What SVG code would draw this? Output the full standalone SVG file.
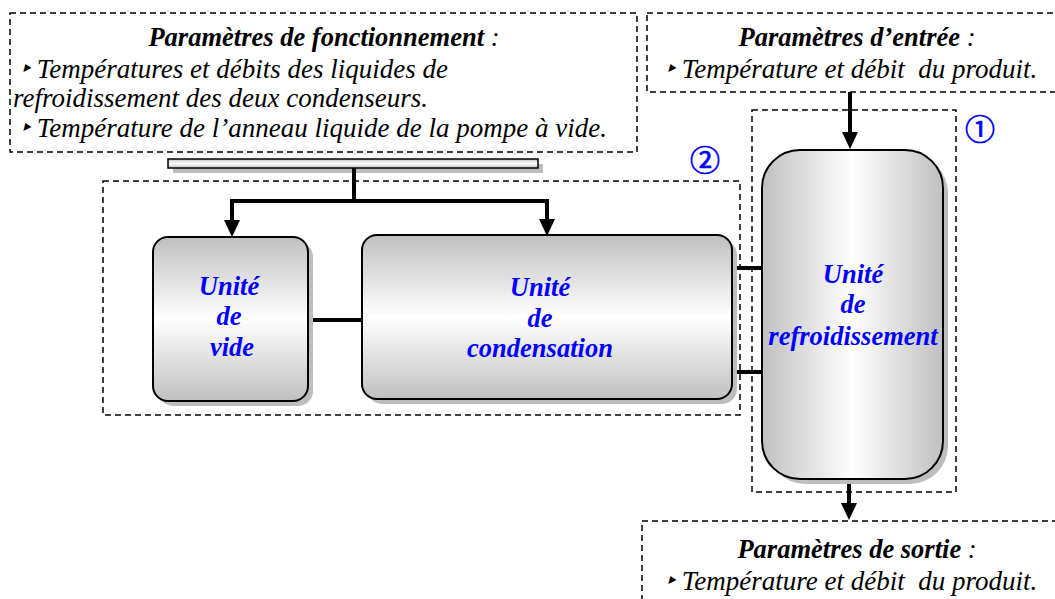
<svg xmlns="http://www.w3.org/2000/svg" width="1055" height="599" viewBox="0 0 1055 599">
<style>
.dash{fill:none;stroke:#000;stroke-width:1.5;stroke-dasharray:6,4}
.hd{font-family:"Liberation Serif","Times New Roman",serif;font-style:italic;font-weight:bold;font-size:26.5px;fill:#000}
.tx{font-family:"Liberation Serif","Times New Roman",serif;font-style:italic;font-size:27px;fill:#000;white-space:pre}
.bl{font-family:"Liberation Serif","Times New Roman",serif;font-style:italic;font-weight:bold;font-size:26.5px;fill:#0000ff}
.num{font-family:"Noto Sans CJK JP","DejaVu Sans",sans-serif;font-size:30px;fill:#0000ff;stroke:#0000ff;stroke-width:0.7}
.box{stroke:#000;stroke-width:2}
.sh{fill:#bdbdbd}
.ln{stroke:#000;stroke-width:4;fill:none}
</style>
<defs>
<linearGradient id="gv" x1="0" y1="0" x2="0" y2="1">
<stop offset="0" stop-color="#c0c0c0"/><stop offset="0.5" stop-color="#ffffff"/><stop offset="1" stop-color="#c0c0c0"/>
</linearGradient>
<linearGradient id="gh" x1="0" y1="0" x2="1" y2="0">
<stop offset="0" stop-color="#c0c0c0"/><stop offset="0.5" stop-color="#ffffff"/><stop offset="1" stop-color="#c0c0c0"/>
</linearGradient>
</defs>

<g id="params-fonctionnement">
<rect class="dash" x="10" y="13" width="627" height="139"/>
<text class="hd" x="324" y="46" text-anchor="middle">Paramètres de fonctionnement <tspan font-weight="normal">:</tspan></text>
<text class="tx" x="20" y="78">‣ Températures et débits des liquides de</text>
<text class="tx" x="13" y="107">refroidissement des deux condenseurs.</text>
<text class="tx" x="20" y="137">‣ Température de l’anneau liquide de la pompe à vide.</text>
</g>

<g id="params-entree">
<rect class="dash" x="647" y="13" width="420" height="79"/>
<text class="hd" x="857" y="46" text-anchor="middle">Paramètres d’entrée <tspan font-weight="normal">:</tspan></text>
<text class="tx" x="665" y="78" xml:space="preserve" font-size="26.6">‣ Température et débit  du produit.</text>
</g>

<g id="params-sortie">
<rect class="dash" x="642" y="521" width="425" height="90"/>
<text class="hd" x="857" y="558" text-anchor="middle">Paramètres de sortie <tspan font-weight="normal">:</tspan></text>
<text class="tx" x="665" y="590" xml:space="preserve" font-size="26.6">‣ Température et débit  du produit.</text>
</g>

<g id="bus">
<rect class="sh" x="173" y="164" width="370" height="9"/>
<rect x="168" y="159" width="370" height="9" fill="url(#gv)" stroke="#000" stroke-width="1.5"/>
</g>

<g id="groupe-2">
<rect class="dash" x="103" y="181" width="637" height="234"/>
<text class="num" x="705" y="158" text-anchor="middle" dominant-baseline="central">②</text>
</g>

<g id="groupe-1">
<rect class="dash" x="752" y="110" width="204" height="382"/>
<text class="num" x="980" y="127" text-anchor="middle" dominant-baseline="central">①</text>
</g>

<g id="connectors">
<path class="ln" d="M354 168 V201 M232 201 H547 M232 199 V222 M547 199 V221"/>
<polygon points="224,220 240,220 232,237"/>
<polygon points="539,219 555,219 547,236"/>
<path class="ln" d="M308 320 H362"/>
<path class="ln" d="M732 268 H762 M732 372 H762"/>
<path class="ln" d="M850 92 V134"/>
<polygon points="842,132 858,132 850,149"/>
<path class="ln" d="M849 479 V505"/>
<polygon points="841,503 857,503 849,520"/>
</g>

<g id="unite-vide">
<rect class="sh" x="158" y="242" width="155" height="164" rx="15"/>
<rect class="box" x="153" y="237" width="155" height="164" rx="15" fill="url(#gv)"/>
<text class="bl" x="229" y="295" text-anchor="middle">Unité</text>
<text class="bl" x="229" y="325" text-anchor="middle">de</text>
<text class="bl" x="232" y="356" text-anchor="middle">vide</text>
</g>

<g id="unite-condensation">
<rect class="sh" x="367" y="240" width="370" height="164" rx="15"/>
<rect class="box" x="362" y="235" width="370" height="164" rx="15" fill="url(#gv)"/>
<text class="bl" x="540" y="296" text-anchor="middle">Unité</text>
<text class="bl" x="540" y="327" text-anchor="middle">de</text>
<text class="bl" x="540" y="357" text-anchor="middle">condensation</text>
</g>

<g id="unite-refroidissement">
<rect class="sh" x="767" y="155" width="181" height="329" rx="38"/>
<rect class="box" x="762" y="150" width="181" height="329" rx="38" fill="url(#gh)"/>
<text class="bl" x="853" y="283" text-anchor="middle">Unité</text>
<text class="bl" x="853" y="313" text-anchor="middle">de</text>
<text class="bl" x="853" y="345" text-anchor="middle">refroidissement</text>
</g>
</svg>
